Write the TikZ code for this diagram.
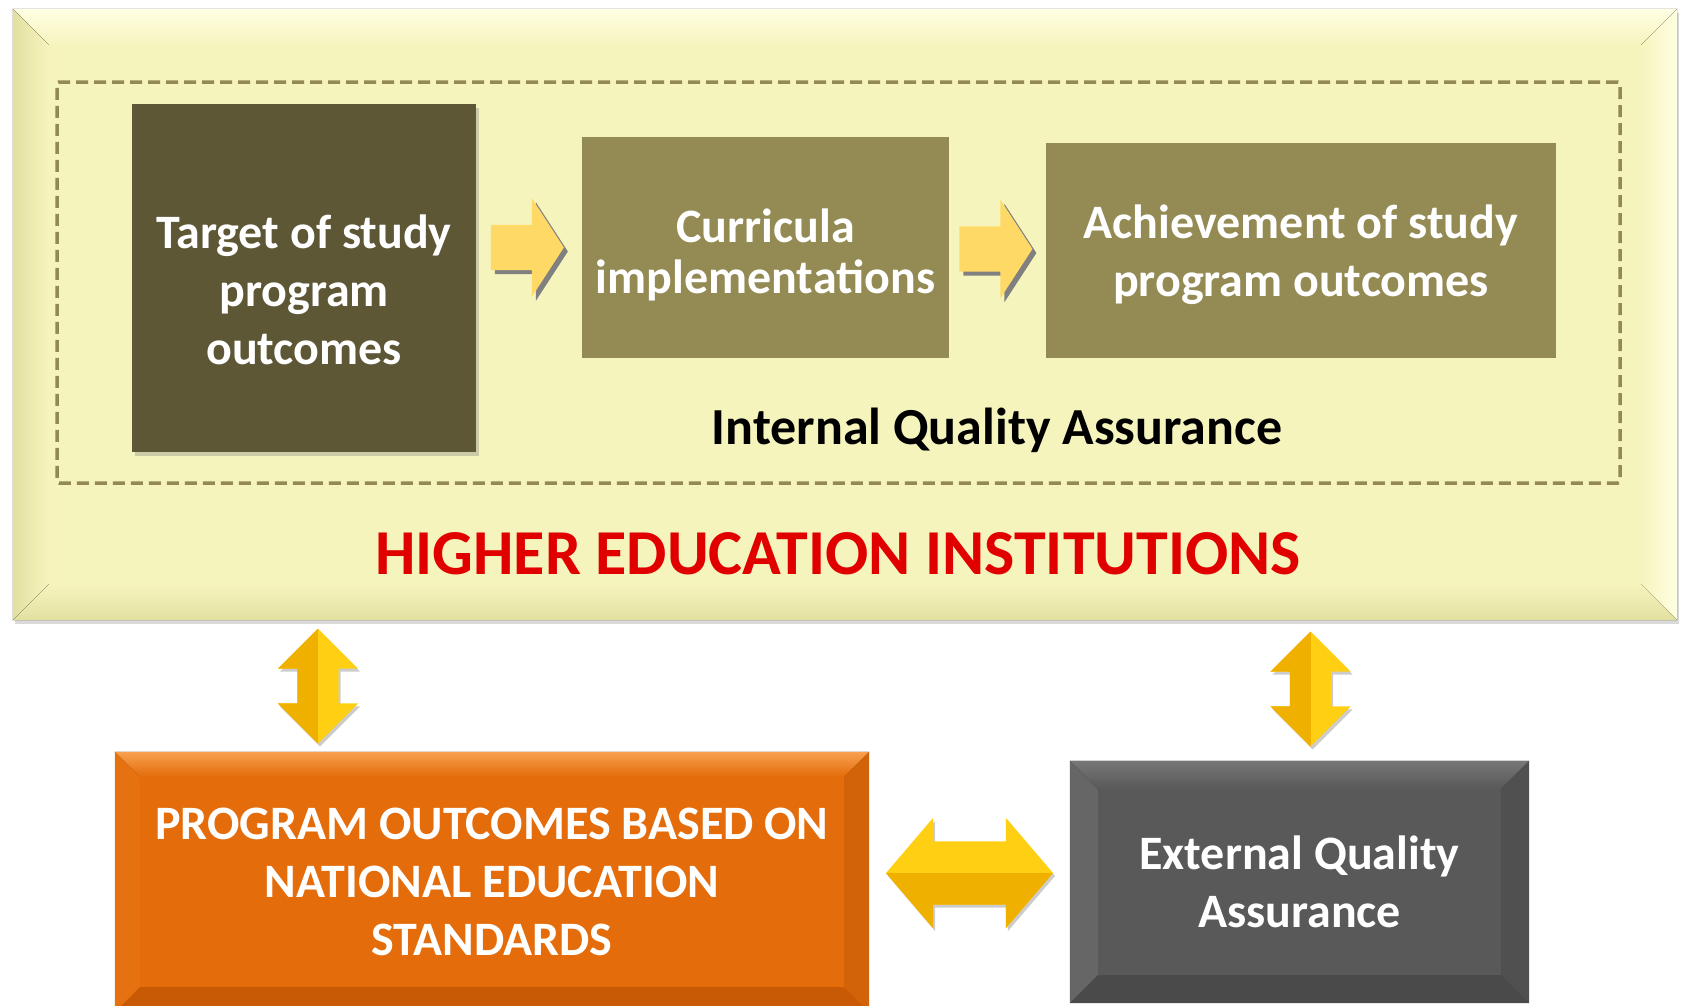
\documentclass[tikz,border=0pt]{standalone}
\usepackage{fontspec}
\setmainfont{Carlito}
\usetikzlibrary{positioning,calc,shapes.arrows,shadows}

\definecolor{heifill}{HTML}{F6F4BD}
\definecolor{heilight}{HTML}{FFFFE4}
\definecolor{heidark}{HTML}{E2E0A0}
\definecolor{oliveline}{HTML}{938953}
\definecolor{olivedark}{HTML}{5E5736}
\definecolor{olivemid}{HTML}{948A54}
\definecolor{arrowyellow}{HTML}{FFD966}
\definecolor{arrowshadow}{HTML}{808080}
\definecolor{heired}{HTML}{E00000}
\definecolor{orangefill}{HTML}{E46C0A}
\definecolor{orangelight}{HTML}{F8A050}
\definecolor{orangedark}{HTML}{C85A05}
\definecolor{greyfill}{HTML}{595959}
\definecolor{greylight}{HTML}{777777}
\definecolor{greydark}{HTML}{4A4A4A}
\definecolor{goldlight}{HTML}{FFCF14}
\definecolor{golddark}{HTML}{F0B000}

% four bevel facets round a named box
\newcommand{\bevelbox}[6]{%
  \fill[#3] (#1.north west) -- (#1.north east) -- ($(#1.north east)+(-#2,#2)$) -- ($(#1.north west)+(#2,#2)$) -- cycle;
  \fill[#4] (#1.north west) -- ($(#1.north west)+(#2,#2)$) -- ($(#1.south west)+(#2,-#2)$) -- (#1.south west) -- cycle;
  \fill[#5] (#1.north east) -- ($(#1.north east)+(-#2,#2)$) -- ($(#1.south east)+(-#2,-#2)$) -- (#1.south east) -- cycle;
  \fill[#6] (#1.south west) -- ($(#1.south west)+(#2,-#2)$) -- ($(#1.south east)+(-#2,-#2)$) -- (#1.south east) -- cycle;
}
% taller first line pushes a centred block down
\newcommand{\pushdown}[1]{\rule{0pt}{#1pt}}

\begin{document}
\begin{tikzpicture}[x=1pt, y=-1pt,
    box/.style={rectangle, inner sep=0pt, align=center, text=white,
        font=\fontsize{48}{58}\selectfont\bfseries},
    flatarrow/.style={single arrow, fill=arrowyellow, inner sep=22.5pt, xshift=-9pt,
        minimum height=73pt, single arrow head extend=26.5pt, single arrow tip angle=114,
        drop shadow={shadow xshift=4pt, shadow yshift=-4pt, fill=arrowshadow, opacity=1}},
    goldarrow/.style={double arrow, fill=goldlight,
        drop shadow={shadow xshift=2pt, shadow yshift=-3pt, fill=black, opacity=0.2}},
    vgold/.style={goldarrow, rotate=-90, inner sep=20.5pt, minimum height=115pt,
        double arrow head extend=19.5pt, double arrow tip angle=90,
        path picture={\fill[golddark] (path picture bounding box.south west) rectangle (path picture bounding box.north);}},
    hgold/.style={goldarrow, inner sep=31.5pt, minimum height=167pt,
        double arrow head extend=23.5pt, double arrow tip angle=99,
        path picture={\fill[golddark] (path picture bounding box.south west) rectangle (path picture bounding box.east);}},
]
    \useasboundingbox (0,0) rectangle (1684,1005);

    \node[rectangle, fill=heifill, minimum width=1664pt, minimum height=611pt,
        drop shadow={shadow xshift=2pt, shadow yshift=-4pt, opacity=0.3}] (hei) at (845,314.5) {};
    \bevelbox{hei}{36}{top color=heilight, bottom color=heifill}{left color=heidark, right color=heifill}{left color=heifill, right color=heilight}{top color=heifill, bottom color=heidark}

    \node[rectangle, draw=oliveline, line width=3.5pt, dash pattern=on 12pt off 6pt, rounded corners=2pt,
        minimum width=1563pt, minimum height=401pt] (iqa) at (838.5,282.5) {};

    \node[box, fill=olivedark, minimum width=344pt, minimum height=348pt,
        drop shadow={shadow xshift=3pt, shadow yshift=-4pt, opacity=0.35}] (target) at (304,278) {\pushdown{58}Target of study\\program\\outcomes};
    \node[box, fill=olivemid, minimum width=367pt, minimum height=221pt,
        font=\fontsize{48}{51}\selectfont\bfseries] (curric) at (765.5,247.5) {\pushdown{49}Curricula\\implementations};
    \node[box, fill=olivemid, minimum width=510pt, minimum height=215pt] (achieve) at (1301,250.5) {\pushdown{43}Achievement of study\\program outcomes};

    \node[flatarrow] (step1) at ($(target.east |- curric.west)!0.5!(curric.west)$) {};
    \node[flatarrow] (step2) at ($(curric.east)!0.5!(achieve.west)$) {};

    \node[font=\fontsize{52}{60}\selectfont\bfseries] (iqa_label) at (997,430) {Internal Quality Assurance};
    \node[font=\fontsize{64}{70}\selectfont\bfseries, text=heired] (hei_label) at (838,554) {HIGHER EDUCATION INSTITUTIONS};

    \node[box, fill=orangefill, minimum width=754pt, minimum height=260pt] (program) at (492,882) {PROGRAM OUTCOMES BASED ON\\NATIONAL EDUCATION\\STANDARDS};
    \bevelbox{program}{25}{top color=orangelight, bottom color=orangefill}{fill=orangefill!90!orangelight}{fill=orangefill!92!black}{fill=orangedark}

    \node[box, fill=greyfill, minimum width=459pt, minimum height=242pt] (eqa) at (1299.5,882) {External Quality\\Assurance};
    \bevelbox{eqa}{28}{top color=greylight, bottom color=greyfill}{fill=greyfill!92!white}{fill=greyfill!90!black}{fill=greydark}

    \node[vgold] (link_left) at (318,686) {};
    \node[vgold] (link_right) at (1310.5,689) {};
    \node[hgold] (link_mid) at ($(program.east)!0.5!(eqa.west)+(0,-9)$) {};

\end{tikzpicture}
\end{document}
